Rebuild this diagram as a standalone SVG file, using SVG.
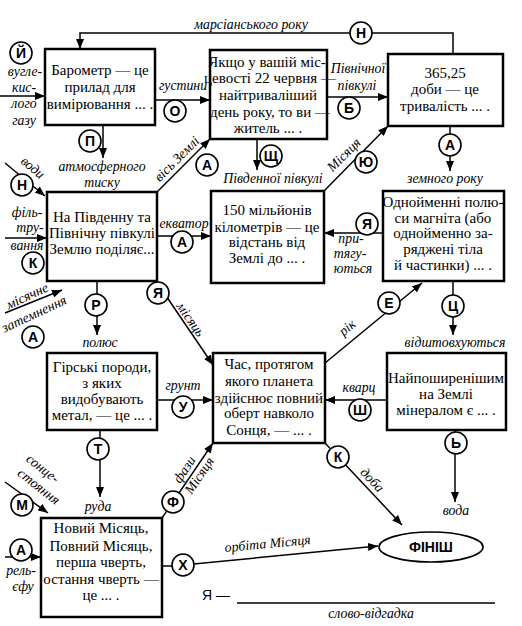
<svg xmlns="http://www.w3.org/2000/svg" width="522" height="626" viewBox="0 0 522 626">
<defs>
<marker id="ah" viewBox="0 0 10 8" refX="10" refY="4" markerWidth="10" markerHeight="8" markerUnits="userSpaceOnUse" orient="auto">
<path d="M0,0 L10,4 L0,8 z" fill="#000"/>
</marker>
<style>
.box{fill:#fff;stroke:#000;stroke-width:2.5}
.bt{font-family:"Liberation Serif","Times New Roman",serif;font-size:15px;text-anchor:middle;fill:#000}
.ln{fill:none;stroke:#000;stroke-width:1.5}
.ar{fill:none;stroke:#000;stroke-width:1.5;marker-end:url(#ah)}
.lb{font-family:"Liberation Serif","DejaVu Serif","Times New Roman",serif;font-style:italic;font-size:13.8px;text-anchor:middle;fill:#000}
.cc{fill:#fff;stroke:#000;stroke-width:1.6}
.cl{font-family:"Liberation Sans",Arial,sans-serif;font-weight:bold;font-size:14px;text-anchor:middle;fill:#000}
</style>
</defs>
<rect width="522" height="626" fill="#fff"/>

<g id="connectors">
<path class="ar" d="M453,54 V33 H80 V49"/>
<path class="ar" d="M155,100 H210"/>
<path class="ar" d="M327,97 H388"/>
<path class="ar" d="M103,125 V158"/>
<path class="ar" d="M0,96 H45"/>
<path class="ar" d="M257,139 V170"/>
<path class="ar" d="M157,192 L210,139"/>
<path class="ar" d="M157,236 H211"/>
<path class="ar" d="M450,126 V171"/>
<path class="ar" d="M324,191 L388,126"/>
<path class="ar" d="M383,233 H324"/>
<path class="ar" d="M453,281 V335"/>
<path class="ar" d="M325,363 L422,283"/>
<path class="ar" d="M160,287 L213,365"/>
<path class="ar" d="M97,281 V335"/>
<path class="ar" d="M5,163 L45,196"/>
<path class="ar" d="M5,238 H47"/>
<path class="ar" d="M5,313 L62,290"/>
<path class="ar" d="M157,400 H213"/>
<path class="ar" d="M387,400 H325"/>
<path class="ar" d="M455,430 V502"/>
<path class="ar" d="M325,443 L402,525"/>
<path class="ar" d="M100,430 V497"/>
<path class="ar" d="M162,518 L213,443"/>
<path class="ar" d="M5,482 L48,513"/>
<path class="ar" d="M5,557 H41"/>
<path class="ln" d="M162,566 H183"/>
<path class="ar" d="M183,565 L378,546"/>

<circle class="cc" cx="361" cy="33" r="11"/><text class="cl" x="361" y="38">Н</text>
<circle class="cc" cx="175" cy="111" r="11"/><text class="cl" x="175" y="116">О</text>
<circle class="cc" cx="349" cy="108" r="11"/><text class="cl" x="349" y="113">Б</text>
<circle class="cc" cx="90" cy="141" r="11"/><text class="cl" x="90" y="146">П</text>
<circle class="cc" cx="21" cy="53" r="11"/><text class="cl" x="21" y="58">Й</text>
<circle class="cc" cx="271" cy="156" r="11"/><text class="cl" x="271" y="161">Щ</text>
<circle class="cc" cx="207" cy="165" r="11"/><text class="cl" x="207" y="170">А</text>
<circle class="cc" cx="182" cy="242" r="11"/><text class="cl" x="182" y="247">А</text>
<circle class="cc" cx="450" cy="145" r="11"/><text class="cl" x="450" y="150">А</text>
<circle class="cc" cx="366" cy="162" r="11"/><text class="cl" x="366" y="167">Ю</text>
<circle class="cc" cx="367" cy="224" r="11"/><text class="cl" x="367" y="229">Я</text>
<circle class="cc" cx="453" cy="306" r="11"/><text class="cl" x="453" y="311">Ц</text>
<circle class="cc" cx="389" cy="303" r="11"/><text class="cl" x="389" y="308">Е</text>
<circle class="cc" cx="158" cy="293" r="11"/><text class="cl" x="158" y="298">Я</text>
<circle class="cc" cx="96" cy="305" r="11"/><text class="cl" x="96" y="310">Р</text>
<circle class="cc" cx="22" cy="185" r="11"/><text class="cl" x="22" y="190">Н</text>
<circle class="cc" cx="33" cy="263" r="11"/><text class="cl" x="33" y="268">К</text>
<circle class="cc" cx="33" cy="337" r="11"/><text class="cl" x="33" y="342">А</text>
<circle class="cc" cx="183" cy="407" r="11"/><text class="cl" x="183" y="412">У</text>
<circle class="cc" cx="360" cy="410" r="11"/><text class="cl" x="360" y="415">Ш</text>
<circle class="cc" cx="456" cy="443" r="11"/><text class="cl" x="456" y="448">Ь</text>
<circle class="cc" cx="338" cy="457" r="11"/><text class="cl" x="338" y="462">К</text>
<circle class="cc" cx="98" cy="449" r="11"/><text class="cl" x="98" y="454">Т</text>
<circle class="cc" cx="173" cy="502" r="11"/><text class="cl" x="173" y="507">Ф</text>
<circle class="cc" cx="22" cy="505" r="11"/><text class="cl" x="22" y="510">М</text>
<circle class="cc" cx="21" cy="550" r="11"/><text class="cl" x="21" y="555">А</text>
<circle class="cc" cx="183" cy="565" r="11"/><text class="cl" x="183" y="570">Х</text>

<text class="lb" x="251" y="29">марсіанського року</text>
<text class="lb" x="183" y="90">густини</text>
<text class="lb" x="25" y="76">вугле-</text>
<text class="lb" x="24" y="92">кис-</text>
<text class="lb" x="24" y="108">лого</text>
<text class="lb" x="24" y="125">газу</text>
<text class="lb" x="102" y="171">атмосферного</text>
<text class="lb" x="102" y="187">тиску</text>
<text class="lb" x="358" y="73">Північної</text>
<text class="lb" x="357" y="90">півкулі</text>
<text class="lb" x="273" y="183">Південної півкулі</text>
<text class="lb" transform="translate(180,162) rotate(-45)">вісь Землі</text>
<text class="lb" x="184" y="228">екватор</text>
<text class="lb" x="445" y="183">земного року</text>
<text class="lb" transform="translate(347,158) rotate(-45)">Місяця</text>
<text class="lb" x="351" y="243">при-</text>
<text class="lb" x="350" y="258">тягу-</text>
<text class="lb" x="353" y="273">ються</text>
<text class="lb" x="455" y="347">відштовхуються</text>
<text class="lb" transform="translate(350,331) rotate(-40)">рік</text>
<text class="lb" transform="translate(187,322) rotate(55)">місяць</text>
<text class="lb" x="100" y="347">полюс</text>
<text class="lb" transform="translate(30,171) rotate(40)">води</text>
<text class="lb" x="27" y="217">філь-</text>
<text class="lb" x="30" y="232">тру-</text>
<text class="lb" x="27" y="250">вання</text>
<text class="lb" transform="translate(29,300) rotate(-25)">місячне</text>
<text class="lb" transform="translate(36,318) rotate(-25)">затемнення</text>
<text class="lb" x="183" y="390">грунт</text>
<text class="lb" x="359" y="392">кварц</text>
<text class="lb" x="456" y="515">вода</text>
<text class="lb" transform="translate(369,483) rotate(47)">доба</text>
<text class="lb" x="98" y="511">руда</text>
<text class="lb" transform="translate(188,472) rotate(-56)">фази</text>
<text class="lb" transform="translate(203,478) rotate(-56)">Місяця</text>
<text class="lb" transform="translate(40,472) rotate(38)">сонце-</text>
<text class="lb" transform="translate(36,490) rotate(38)">стояння</text>
<text class="lb" x="21" y="575">рель-</text>
<text class="lb" x="23" y="591">єфу</text>
<text class="lb" transform="translate(268,548) rotate(-5.4)">орбіта Місяця</text>
</g>

<g id="n1"><rect class="box" x="45" y="49" width="110" height="76"/>
<text class="bt" x="100" y="75">Барометр — це</text><text class="bt" x="100" y="92">прилад для</text><text class="bt" x="100" y="109">вимірювання ... .</text></g>

<g id="n2"><rect class="box" x="210" y="50" width="117" height="89"/>
<text class="bt" x="267" y="67">Якщо у вашій міс-</text><text class="bt" x="270" y="83">цевості 22 червня —</text><text class="bt" x="268" y="100">найтриваліший</text><text class="bt" x="270" y="117">день року, то ви —</text><text class="bt" x="268" y="133">житель ... .</text></g>

<g id="n3"><rect class="box" x="388" y="54" width="115" height="72"/>
<text class="bt" x="445" y="78">365,25</text><text class="bt" x="445" y="94">доби  — це</text><text class="bt" x="445" y="111">тривалість ... .</text></g>

<g id="n4"><rect class="box" x="47" y="192" width="110" height="89"/>
<text class="bt" x="102" y="222">На Південну та</text><text class="bt" x="102" y="238">Північну півкулі</text><text class="bt" x="102" y="254">Землю поділяє...</text></g>

<g id="n5"><rect class="box" x="211" y="191" width="113" height="92"/>
<text class="bt" x="267" y="215">150 мільйонів</text><text class="bt" x="267" y="232">кілометрів — це</text><text class="bt" x="267" y="247">відстань від</text><text class="bt" x="267" y="263">Землі до ... .</text></g>

<g id="n6"><rect class="box" x="383" y="191" width="121" height="90"/>
<text class="bt" x="443" y="207">Однойменні полю-</text><text class="bt" x="443" y="223">си магніта (або</text><text class="bt" x="443" y="238">однойменно за-</text><text class="bt" x="443" y="254">ряджені тіла</text><text class="bt" x="443" y="270">й частинки) ... .</text></g>

<g id="n7"><rect class="box" x="47" y="353" width="110" height="77"/>
<text class="bt" x="102" y="372">Гірські породи,</text><text class="bt" x="102" y="388">з яких</text><text class="bt" x="102" y="404">видобувають</text><text class="bt" x="102" y="420">метал, — це ... .</text></g>

<g id="n8"><rect class="box" x="213" y="353" width="112" height="90"/>
<text class="bt" x="269" y="369">Час, протягом</text><text class="bt" x="269" y="386">якого планета</text><text class="bt" x="269" y="403">здійснює повний</text><text class="bt" x="269" y="418">оберт навколо</text><text class="bt" x="269" y="435">Сонця, — ... .</text></g>

<g id="n9"><rect class="box" x="387" y="353" width="119" height="77"/>
<text class="bt" x="446" y="383">Найпоширенішим</text><text class="bt" x="446" y="399">на Землі</text><text class="bt" x="446" y="415">мінералом є ... .</text></g>

<g id="n10"><rect class="box" x="41" y="518" width="121" height="99"/>
<text class="bt" x="101" y="533">Новий Місяць,</text><text class="bt" x="101" y="551">Повний Місяць,</text><text class="bt" x="101" y="567">перша чверть,</text><text class="bt" x="101" y="584">остання чверть —</text><text class="bt" x="101" y="600">це ... .</text></g>

<g id="finish"><ellipse cx="431" cy="547" rx="52" ry="15" fill="#fff" stroke="#000" stroke-width="1.6"/>
<text class="cl" x="431" y="552" font-size="14">ФІНІШ</text></g>

<g id="answer">
<text x="202" y="600" font-family="'Liberation Sans',Arial,sans-serif" font-size="14" fill="#000">Я —</text>
<path class="ln" d="M237,603 H495"/>
<text class="lb" x="371" y="618">слово-відгадка</text>
</g>
</svg>
